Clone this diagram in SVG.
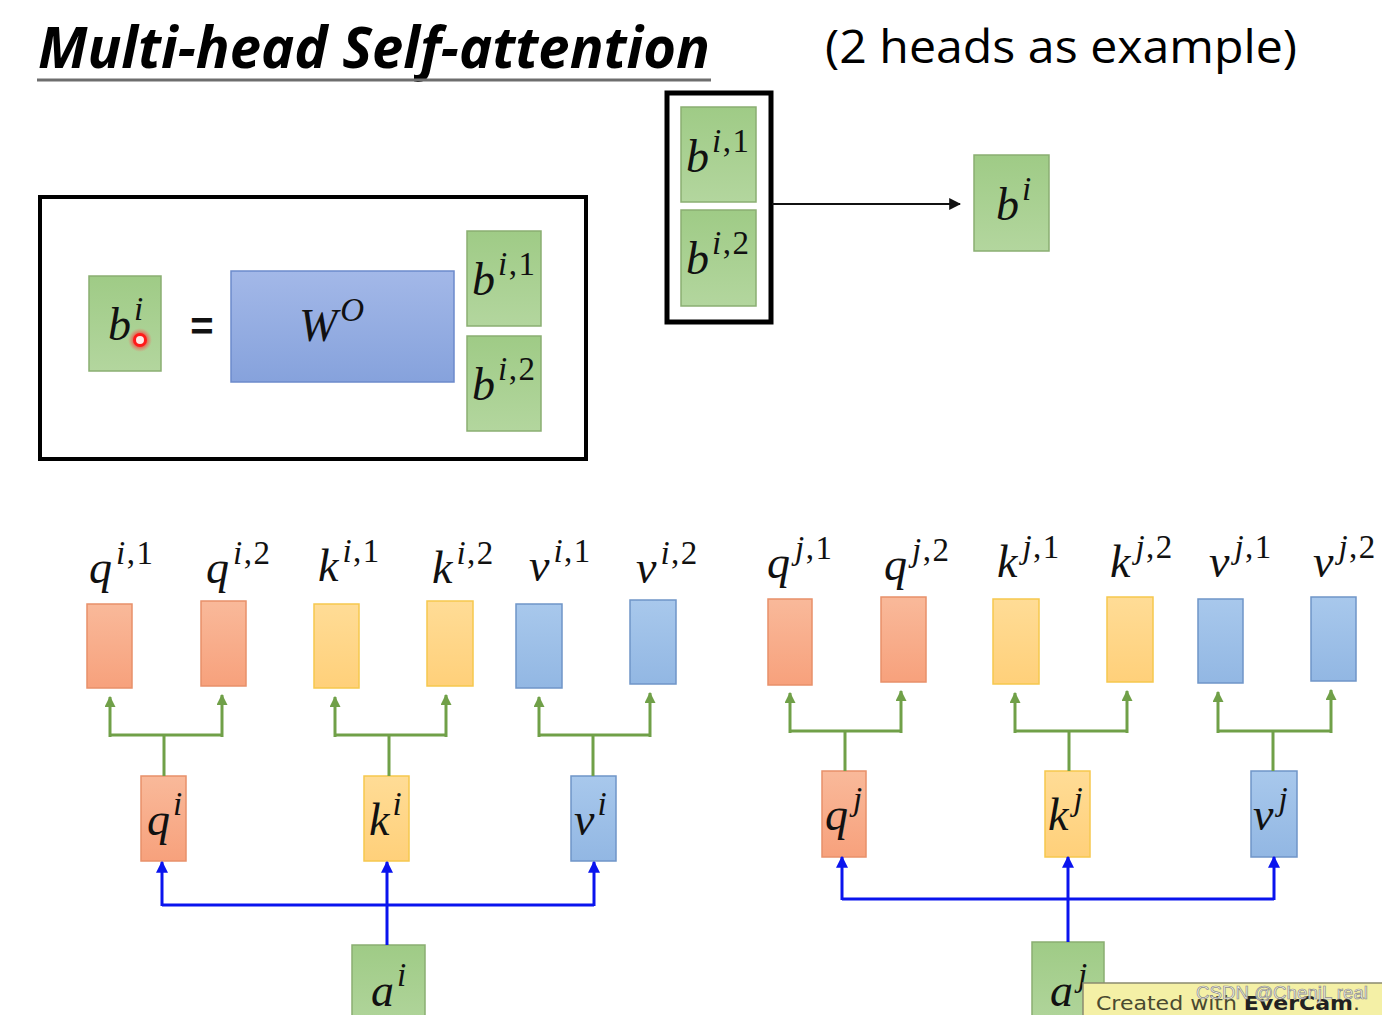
<svg xmlns="http://www.w3.org/2000/svg" width="1382" height="1015" viewBox="0 0 1382 1015">
<defs>
<style>
.m{font-family:"Liberation Serif","DejaVu Serif",serif;font-style:italic;fill:#111;}
.sup{font-size:33px;letter-spacing:1.5px;}
.up{font-style:normal;}
.g{fill:url(#gg);stroke:#8aae72;stroke-width:1.5;}
.o{fill:url(#go);stroke:#e8906a;stroke-width:1.5;}
.y{fill:url(#gy);stroke:#f6c84e;stroke-width:1.5;}
.b{fill:url(#gb);stroke:#6f95c8;stroke-width:1.5;}
.gl{stroke:#70a048;stroke-width:3;fill:none;}
.bl{stroke:#0a14ee;stroke-width:3;fill:none;}
</style>
<linearGradient id="gg" x1="0" y1="0" x2="0" y2="1"><stop offset="0" stop-color="#9fcb86"/><stop offset="1" stop-color="#b3d69e"/></linearGradient>
<linearGradient id="go" x1="0" y1="0" x2="0" y2="1"><stop offset="0" stop-color="#f9b99a"/><stop offset="1" stop-color="#f7a17c"/></linearGradient>
<linearGradient id="gy" x1="0" y1="0" x2="0" y2="1"><stop offset="0" stop-color="#ffdc96"/><stop offset="1" stop-color="#ffd07a"/></linearGradient>
<linearGradient id="gb" x1="0" y1="0" x2="0" y2="1"><stop offset="0" stop-color="#a8c8ec"/><stop offset="1" stop-color="#92b7e3"/></linearGradient>
<linearGradient id="gw" x1="0" y1="0" x2="0" y2="1"><stop offset="0" stop-color="#a3b8e8"/><stop offset="1" stop-color="#86a2dc"/></linearGradient>
<radialGradient id="glow"><stop offset="0.45" stop-color="#ff2a2a" stop-opacity="0.85"/><stop offset="1" stop-color="#ff6060" stop-opacity="0"/></radialGradient>
<marker id="ag" viewBox="0 0 10 10" refX="9" refY="5" markerWidth="11" markerHeight="11" markerUnits="userSpaceOnUse" orient="auto"><path d="M0,0 L10,5 L0,10 z" fill="#70a048"/></marker>
<marker id="ab" viewBox="0 0 10 10" refX="9" refY="5" markerWidth="12" markerHeight="12" markerUnits="userSpaceOnUse" orient="auto"><path d="M0,0 L10,5 L0,10 z" fill="#0a14ee"/></marker>
<marker id="ak" viewBox="0 0 10 10" refX="9" refY="5" markerWidth="12" markerHeight="12" markerUnits="userSpaceOnUse" orient="auto"><path d="M0,0 L10,5 L0,10 z" fill="#111"/></marker>
</defs>
<rect width="1382" height="1015" fill="#ffffff"/>

<g id="title">
<text x="38" y="68" font-family="'Open Sans','Liberation Sans',sans-serif" font-weight="bold" font-style="italic" font-size="58" fill="#000" textLength="672" lengthAdjust="spacingAndGlyphs">Multi-head Self-attention</text>
<line x1="37" y1="80" x2="711" y2="80" stroke="#6e6e6e" stroke-width="3"/>
</g>
<g id="subtitle">
<text x="825" y="63" font-family="'Open Sans','Liberation Sans',sans-serif" font-size="45" fill="#000" textLength="472" lengthAdjust="spacingAndGlyphs">(2 heads as example)</text>
</g>

<g id="concat-box">
<rect x="667" y="93" width="104" height="229" fill="none" stroke="#000" stroke-width="5"/>
</g>
<g id="b-i1-top"><rect class="g" x="681" y="107" width="75" height="95"/>
<text class="m" x="686" y="172" font-size="46">b<tspan class="sup" dx="3" dy="-20">i<tspan class="up">,1</tspan></tspan></text></g>
<g id="b-i2-top"><rect class="g" x="681" y="210" width="75" height="96"/>
<text class="m" x="686" y="274" font-size="46">b<tspan class="sup" dx="3" dy="-20">i<tspan class="up">,2</tspan></tspan></text></g>
<g id="b-i-top"><rect class="g" x="974" y="155" width="75" height="96"/>
<text class="m" x="996" y="220" font-size="46">b<tspan class="sup" dx="3" dy="-20">i</tspan></text></g>

<g id="formula-box">
<rect x="40" y="197" width="546" height="262" fill="none" stroke="#000" stroke-width="4"/>
</g>
<g id="b-i-left"><rect class="g" x="89" y="276" width="72" height="95"/>
<text class="m" x="108" y="340" font-size="46">b<tspan class="sup" dx="3" dy="-20">i</tspan></text>
<circle cx="140" cy="340" r="12" fill="url(#glow)"/>
<circle cx="140" cy="340" r="5.5" fill="#ffe8e8" stroke="#ff1a1a" stroke-width="3"/>
</g>
<g id="equals"><text x="202" y="340" text-anchor="middle" font-family="'Liberation Sans',sans-serif" font-weight="bold" font-size="40" fill="#111">=</text></g>
<g id="w-o"><rect x="231" y="271" width="223" height="111" fill="url(#gw)" stroke="#6c8acb" stroke-width="1.5"/>
<text class="m" x="299" y="341" font-size="46">W<tspan class="sup" dx="3" dy="-20">O</tspan></text></g>
<g id="b-i1-left"><rect class="g" x="467" y="231" width="74" height="95"/>
<text class="m" x="472" y="295" font-size="46">b<tspan class="sup" dx="3" dy="-20">i<tspan class="up">,1</tspan></tspan></text></g>
<g id="b-i2-left"><rect class="g" x="467" y="336" width="74" height="95"/>
<text class="m" x="472" y="400" font-size="46">b<tspan class="sup" dx="3" dy="-20">i<tspan class="up">,2</tspan></tspan></text></g>

<!-- head outputs, token i -->
<g id="q-i1"><rect class="o" x="87" y="604" width="45" height="84"/><text class="m" x="89" y="583" font-size="46">q<tspan class="sup" dx="4" dy="-19">i<tspan class="up">,1</tspan></tspan></text></g>
<g id="q-i2"><rect class="o" x="201" y="601" width="45" height="85"/><text class="m" x="206" y="583" font-size="46">q<tspan class="sup" dx="4" dy="-19">i<tspan class="up">,2</tspan></tspan></text></g>
<g id="k-i1"><rect class="y" x="314" y="604" width="45" height="84"/><text class="m" x="318" y="581" font-size="46">k<tspan class="sup" dx="4" dy="-19">i<tspan class="up">,1</tspan></tspan></text></g>
<g id="k-i2"><rect class="y" x="427" y="601" width="46" height="85"/><text class="m" x="432" y="583" font-size="46">k<tspan class="sup" dx="4" dy="-19">i<tspan class="up">,2</tspan></tspan></text></g>
<g id="v-i1"><rect class="b" x="516" y="604" width="46" height="84"/><text class="m" x="529" y="581" font-size="46">v<tspan class="sup" dx="4" dy="-19">i<tspan class="up">,1</tspan></tspan></text></g>
<g id="v-i2"><rect class="b" x="630" y="600" width="46" height="84"/><text class="m" x="636" y="583" font-size="46">v<tspan class="sup" dx="4" dy="-19">i<tspan class="up">,2</tspan></tspan></text></g>

<g id="q-i"><rect class="o" x="141" y="776" width="45" height="85"/><text class="m" x="147" y="835" font-size="46">q<tspan class="sup" dx="3" dy="-20">i</tspan></text></g>
<g id="k-i"><rect class="y" x="364" y="776" width="45" height="85"/><text class="m" x="369" y="835" font-size="46">k<tspan class="sup" dx="3" dy="-20">i</tspan></text></g>
<g id="v-i"><rect class="b" x="571" y="776" width="45" height="85"/><text class="m" x="574" y="835" font-size="46">v<tspan class="sup" dx="3" dy="-20">i</tspan></text></g>
<g id="a-i"><rect class="g" x="352" y="945" width="73" height="90"/><text class="m" x="371" y="1006" font-size="46">a<tspan class="sup" dx="3" dy="-20">i</tspan></text></g>

<!-- head outputs, token j -->
<g id="q-j1"><rect class="o" x="768" y="599" width="44" height="86"/><text class="m" x="767" y="578" font-size="46">q<tspan class="sup" dx="5" dy="-19">j<tspan class="up">,1</tspan></tspan></text></g>
<g id="q-j2"><rect class="o" x="881" y="597" width="45" height="85"/><text class="m" x="884" y="580" font-size="46">q<tspan class="sup" dx="5" dy="-19">j<tspan class="up">,2</tspan></tspan></text></g>
<g id="k-j1"><rect class="y" x="993" y="599" width="46" height="85"/><text class="m" x="997" y="577" font-size="46">k<tspan class="sup" dx="5" dy="-19">j<tspan class="up">,1</tspan></tspan></text></g>
<g id="k-j2"><rect class="y" x="1107" y="597" width="46" height="85"/><text class="m" x="1110" y="577" font-size="46">k<tspan class="sup" dx="5" dy="-19">j<tspan class="up">,2</tspan></tspan></text></g>
<g id="v-j1"><rect class="b" x="1198" y="599" width="45" height="84"/><text class="m" x="1209" y="577" font-size="46">v<tspan class="sup" dx="5" dy="-19">j<tspan class="up">,1</tspan></tspan></text></g>
<g id="v-j2"><rect class="b" x="1311" y="597" width="45" height="84"/><text class="m" x="1313" y="577" font-size="46">v<tspan class="sup" dx="5" dy="-19">j<tspan class="up">,2</tspan></tspan></text></g>

<g id="q-j"><rect class="o" x="822" y="771" width="44" height="86"/><text class="m" x="825" y="830" font-size="46">q<tspan class="sup" dx="5" dy="-20">j</tspan></text></g>
<g id="k-j"><rect class="y" x="1045" y="771" width="45" height="86"/><text class="m" x="1048" y="830" font-size="46">k<tspan class="sup" dx="5" dy="-20">j</tspan></text></g>
<g id="v-j"><rect class="b" x="1251" y="771" width="46" height="86"/><text class="m" x="1253" y="830" font-size="46">v<tspan class="sup" dx="5" dy="-20">j</tspan></text></g>
<g id="a-j"><rect class="g" x="1032" y="942" width="72" height="90"/><text class="m" x="1050" y="1006" font-size="46">a<tspan class="sup" dx="5" dy="-20">j</tspan></text></g>

<g id="connectors">
<line x1="772" y1="204" x2="960" y2="204" stroke="#111" stroke-width="2" marker-end="url(#ak)"/>
<!-- green splits, token i -->
<path class="gl" d="M110,735 H222 M164,735 V776"/>
<line class="gl" x1="110" y1="737" x2="110" y2="697" marker-end="url(#ag)"/>
<line class="gl" x1="222" y1="737" x2="222" y2="695" marker-end="url(#ag)"/>
<path class="gl" d="M335,735 H446 M389,735 V776"/>
<line class="gl" x1="335" y1="737" x2="335" y2="697" marker-end="url(#ag)"/>
<line class="gl" x1="446" y1="737" x2="446" y2="695" marker-end="url(#ag)"/>
<path class="gl" d="M539,735 H650 M593,735 V776"/>
<line class="gl" x1="539" y1="737" x2="539" y2="697" marker-end="url(#ag)"/>
<line class="gl" x1="650" y1="737" x2="650" y2="693" marker-end="url(#ag)"/>
<!-- green splits, token j -->
<path class="gl" d="M790,731 H901 M845,731 V771"/>
<line class="gl" x1="790" y1="733" x2="790" y2="693" marker-end="url(#ag)"/>
<line class="gl" x1="901" y1="733" x2="901" y2="691" marker-end="url(#ag)"/>
<path class="gl" d="M1015,731 H1127 M1069,731 V771"/>
<line class="gl" x1="1015" y1="733" x2="1015" y2="693" marker-end="url(#ag)"/>
<line class="gl" x1="1127" y1="733" x2="1127" y2="691" marker-end="url(#ag)"/>
<path class="gl" d="M1218,731 H1331 M1273,731 V771"/>
<line class="gl" x1="1218" y1="733" x2="1218" y2="692" marker-end="url(#ag)"/>
<line class="gl" x1="1331" y1="733" x2="1331" y2="690" marker-end="url(#ag)"/>
<!-- blue, token i -->
<path class="bl" d="M162,905 H594"/>
<line class="bl" x1="162" y1="906" x2="162" y2="862" marker-end="url(#ab)"/>
<line class="bl" x1="387" y1="945" x2="387" y2="862" marker-end="url(#ab)"/>
<line class="bl" x1="594" y1="906" x2="594" y2="862" marker-end="url(#ab)"/>
<!-- blue, token j -->
<path class="bl" d="M842,899 H1274"/>
<line class="bl" x1="842" y1="900" x2="842" y2="857" marker-end="url(#ab)"/>
<line class="bl" x1="1068" y1="942" x2="1068" y2="857" marker-end="url(#ab)"/>
<line class="bl" x1="1274" y1="900" x2="1274" y2="857" marker-end="url(#ab)"/>
</g>

<g id="watermark">
<rect x="1083" y="983" width="300" height="34" fill="#f4f0a6" stroke="#8a8a70" stroke-width="1.5"/>
<text x="1096" y="1010" font-family="'DejaVu Sans','Liberation Sans',sans-serif" font-size="19" fill="#4a4a30" textLength="264" lengthAdjust="spacingAndGlyphs">Created with <tspan font-weight="bold" fill="#222">EverCam</tspan>.</text>
<text x="1196" y="999" font-family="'Liberation Sans',sans-serif" font-size="18" fill="#ffffff" fill-opacity="0.8" stroke="#8a8a8a" stroke-width="0.7" textLength="172" lengthAdjust="spacingAndGlyphs">CSDN @ChenjL real</text>
</g>
</svg>
